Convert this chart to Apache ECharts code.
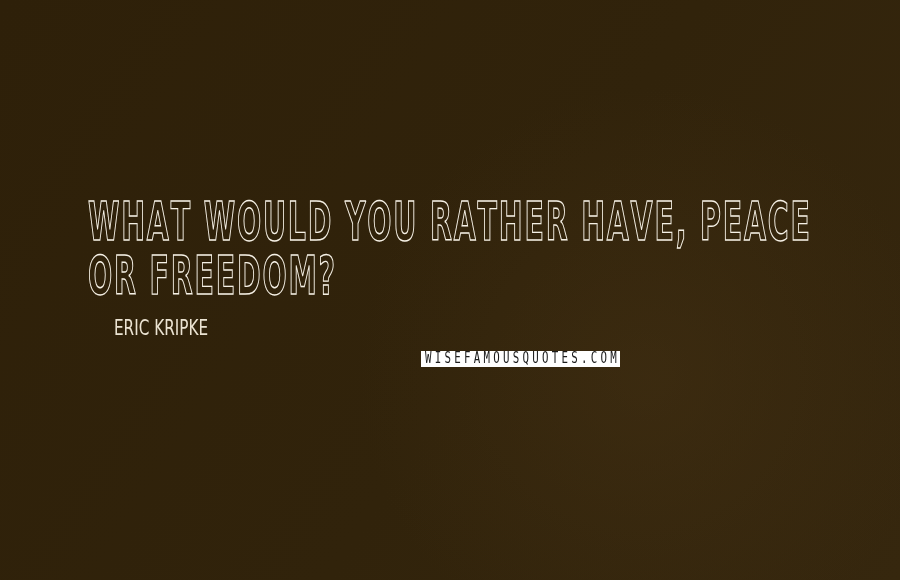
<!DOCTYPE html>
<html>
<head>
<meta charset="utf-8">
<script src="https://cdn.jsdelivr.net/npm/echarts@6/dist/echarts.min.js"></script>
<style>
  html, body { margin: 0; padding: 0; background: #30220a; }
  #main { width: 900px; height: 580px; }
</style>
</head>
<body>
<div id="main"></div>
<script>
// quote text
var quoteLines = ['WHAT WOULD YOU RATHER HAVE, PEACE', 'OR FREEDOM?'];
var quoteAuthor = ['ERIC KRIPKE'];
var siteMark = ['WISEFAMOUSQUOTES.COM'];

var BG = '#30220a';
var INK = '#f6f1e6';
var QFONT = '"DejaVu Sans Condensed", "Liberation Sans Narrow", "DejaVu Sans", sans-serif';

// measure text so the condensed quote fits the reference width
var cv = document.createElement('canvas').getContext('2d');
function textW(str, font) {
	cv.font = font;
	return cv.measureText(str).width;
}

var qFont = 'bold 53px ' + QFONT;
var qTrack = 1.8;
var rawW = 0;
quoteLines[0].split('').forEach(function (c) { rawW += textW(c, qFont); });
var qScale = (722 - qTrack * (quoteLines[0].length - 1)) / rawW;
var aFont = '22px ' + QFONT;
var aScale = 94 / textW(quoteAuthor[0], aFont);

var myChart = echarts.init(document.getElementById('main'), null, {width: 900, height: 580});

var elements = [];

// background
elements.push({
	type: 'rect',
	shape: {x: 0, y: 0, width: 900, height: 580},
	style: {
		fill: new echarts.graphic.LinearGradient(0, 0, 1, 1, [
			{offset: 0, color: '#2e2009'},
			{offset: 0.55, color: '#31230b'},
			{offset: 1, color: '#36270e'}
		])
	},
	silent: true
});
elements.push({
	type: 'rect',
	shape: {x: 0, y: 0, width: 900, height: 580},
	style: {
		fill: new echarts.graphic.RadialGradient(0.72, 0.65, 0.5, [
			{offset: 0, color: 'rgba(72,52,22,0.4)'},
			{offset: 1, color: 'rgba(72,52,22,0)'}
		])
	},
	silent: true
});

// quote lines, outlined letters, one glyph at a time for the wider tracking
var lineMid = [226, 280];
quoteLines.forEach(function (line, i) {
	var x = 88;
	line.split('').forEach(function (c) {
		if (c !== ' ') {
			elements.push({
				type: 'text',
				x: x,
				y: lineMid[i],
				scaleX: qScale,
				silent: true,
				style: {
					text: c, font: qFont, align: 'left', verticalAlign: 'middle',
					fill: 'rgba(0,0,0,0)', stroke: INK, lineWidth: 1.4
				}
			});
		}
		x += textW(c, qFont) * qScale + qTrack;
	});
});

// author
elements.push({
	type: 'text',
	x: 114,
	y: 329,
	scaleX: aScale,
	silent: true,
	style: {
		text: quoteAuthor[0], font: aFont, align: 'left', verticalAlign: 'middle',
		fill: '#ebe3d2'
	}
});

// watermark box
elements.push({
	type: 'rect',
	shape: {x: 421, y: 351, width: 199, height: 16},
	style: {fill: '#ffffff'},
	silent: true
});
var chars = siteMark[0].split('');
chars.forEach(function (c, i) {
	elements.push({
		type: 'text',
		x: 425 + i * 9.75,
		y: 359,
		scaleX: 0.72,
		silent: true,
		style: {
			text: c, font: '15px "DejaVu Sans Mono", monospace', align: 'left', verticalAlign: 'middle',
			fill: '#1c1c1c'
		}
	});
});

myChart.setOption({
	backgroundColor: BG,
	animation: false,
	graphic: {elements: elements}
});
</script>
</body>
</html>
